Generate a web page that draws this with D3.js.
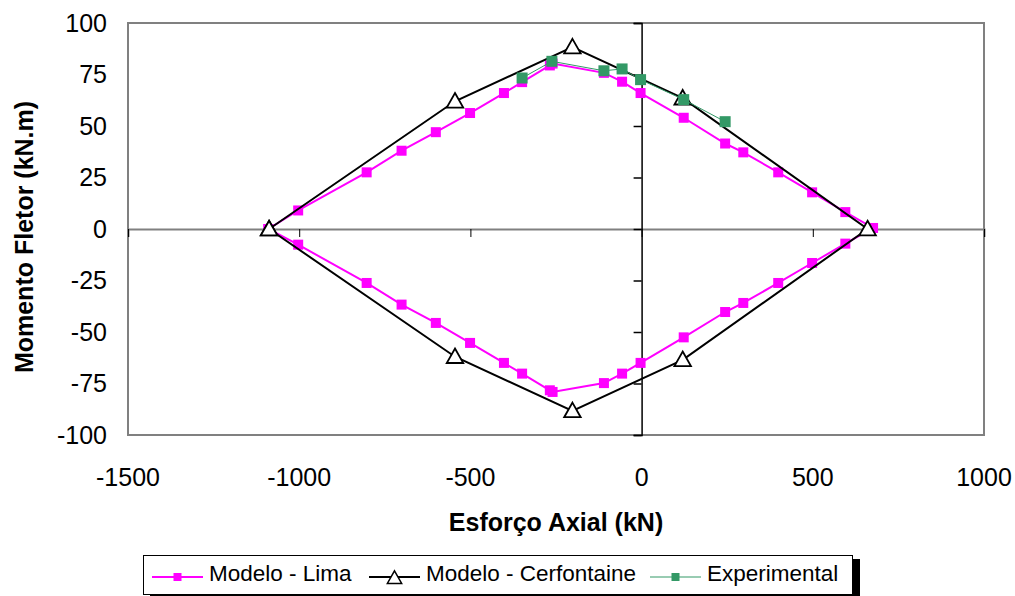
<!DOCTYPE html>
<html lang="pt">
<head>
  <meta charset="UTF-8">
  <title>Momento Fletor x Esforço Axial</title>
  <script src="https://d3js.org/d3.v7.min.js"></script>
  <style>
    body {
      margin: 0;
      background: #fff;
      font-family: "Liberation Sans", Arial, sans-serif;
    }

    svg {
      display: block;
    }

    .tick-label {
      font-size: 25px;
      fill: #000;
    }

    .axis-title {
      font-size: 25px;
      font-weight: bold;
      fill: #000;
    }

    .legend-text {
      font-size: 22.5px;
      fill: #000;
    }
  </style>
</head>
<body>
  <svg id="chart"></svg>
  <script>
    // Modelo - Lima (upper branch left to right, then lower branch back)
    const limaX = [-1090, -1003, -803, -701, -601, -501, -402, -349, -268, -260, -110, -57, -3, 123, 244, 297, 399, 498, 595, 676,
                   595, 498, 399, 297, 244, 123, -3, -57, -110, -260, -268, -349, -402, -501, -601, -701, -803, -1003, -1090];
    const limaY = [0, 9, 27.5, 38, 47, 56.3, 66, 71.3, 79.4, 80.3, 75.8, 71.5, 66, 54, 41.5, 37.2, 27.5, 17.8, 8.2, 0.5,
                   -7.1, -16.5, -26.2, -35.9, -40.3, -52.6, -65, -70.2, -74.8, -79.1, -78.3, -70.2, -65, -55.3, -45.6, -36.7, -26.2, -7.6, 0];

    // Modelo - Cerfontaine
    const cerfX = [-1088, -545, -202, 120, 660, 120, -202, -545, -1088];
    const cerfY = [0, 62, 88.3, 63.5, 0, -63.5, -88.3, -62, 0];

    // Experimental
    const expX = [-349, -262, -110, -57, -3, 123, 244];
    const expY = [73.3, 81.4, 76.8, 77.7, 72.5, 62.8, 52.1];

    const xTicks = [-1500, -1000, -500, 0, 500, 1000];
    const yTicks = [100, 75, 50, 25, 0, -25, -50, -75, -100];

    const width = 1015;
    const height = 596;
    const plot = { left: 128, right: 984, top: 23, bottom: 435 };

    const svg = d3.select("#chart")
      .attr("width", width)
      .attr("height", height);

    const x = d3.scaleLinear().domain([-1500, 1000]).range([plot.left, plot.right]);
    const y = d3.scaleLinear().domain([-100, 100]).range([plot.bottom, plot.top]);

    // plot frame
    svg.append("rect")
      .attr("x", plot.left)
      .attr("y", plot.top)
      .attr("width", plot.right - plot.left)
      .attr("height", plot.bottom - plot.top)
      .attr("fill", "#fff")
      .attr("stroke", "#808080")
      .attr("stroke-width", 2);

    // horizontal axis through zero
    const xAxis = d3.axisBottom(x).tickValues(xTicks).tickSize(8).tickFormat("");
    const gx = svg.append("g")
      .attr("transform", `translate(0,${y(0)})`)
      .call(xAxis);
    gx.select(".domain").attr("stroke", "#808080").attr("stroke-width", 2);
    gx.selectAll(".tick line").attr("stroke", "#000").attr("stroke-width", 1);

    // vertical axis through zero
    const yAxis = d3.axisLeft(y).tickValues(yTicks).tickSize(8).tickFormat("");
    const gy = svg.append("g")
      .attr("transform", `translate(${x(0)},0)`)
      .call(yAxis);
    gy.select(".domain").attr("stroke", "#000").attr("stroke-width", 1.5);
    gy.selectAll(".tick line").attr("stroke", "#000").attr("stroke-width", 1.5);

    // tick labels (placed at the low side of the plot)
    svg.append("g")
      .selectAll("text")
      .data(yTicks)
      .join("text")
      .attr("class", "tick-label")
      .attr("x", plot.left - 21)
      .attr("y", d => y(d))
      .attr("dy", "0.35em")
      .attr("text-anchor", "end")
      .text(d => d);

    svg.append("g")
      .selectAll("text")
      .data(xTicks)
      .join("text")
      .attr("class", "tick-label")
      .attr("x", d => x(d))
      .attr("y", 486)
      .attr("text-anchor", "middle")
      .text(d => d);

    // axis titles
    svg.append("text")
      .attr("class", "axis-title")
      .attr("x", (plot.left + plot.right) / 2)
      .attr("y", 531)
      .attr("text-anchor", "middle")
      .text("Esforço Axial (kN)");

    svg.append("text")
      .attr("class", "axis-title")
      .attr("transform", `translate(33,${237}) rotate(-90)`)
      .attr("text-anchor", "middle")
      .text("Momento Fletor (kN.m)");

    const line = d3.line().x(d => x(d[0])).y(d => y(d[1]));

    const lima = limaX.map((v, i) => [v, limaY[i]]);
    const cerf = cerfX.map((v, i) => [v, cerfY[i]]);
    const exp = expX.map((v, i) => [v, expY[i]]);

    const triangle = s => `M0,${-s * 0.55}L${s * 0.55},${s * 0.42}L${-s * 0.55},${s * 0.42}Z`;

    // Lima
    svg.append("path")
      .datum(lima)
      .attr("d", line)
      .attr("fill", "none")
      .attr("stroke", "#ff00ff")
      .attr("stroke-width", 2);
    svg.append("g")
      .selectAll("rect")
      .data(lima)
      .join("rect")
      .attr("x", d => x(d[0]) - 5)
      .attr("y", d => y(d[1]) - 5)
      .attr("width", 10)
      .attr("height", 10)
      .attr("fill", "#ff00ff");

    // Cerfontaine
    svg.append("path")
      .datum(cerf)
      .attr("d", line)
      .attr("fill", "none")
      .attr("stroke", "#000")
      .attr("stroke-width", 2);
    svg.append("g")
      .selectAll("path")
      .data(cerf)
      .join("path")
      .attr("transform", d => `translate(${x(d[0])},${y(d[1])})`)
      .attr("d", triangle(15))
      .attr("fill", "#fff")
      .attr("stroke", "#000")
      .attr("stroke-width", 1.8);

    // Experimental
    svg.append("path")
      .datum(exp)
      .attr("d", line)
      .attr("fill", "none")
      .attr("stroke", "#339966")
      .attr("stroke-width", 1);
    svg.append("g")
      .selectAll("rect")
      .data(exp)
      .join("rect")
      .attr("x", d => x(d[0]) - 5.5)
      .attr("y", d => y(d[1]) - 5.5)
      .attr("width", 11)
      .attr("height", 11)
      .attr("fill", "#339966");

    // legend
    const legend = svg.append("g");
    legend.append("rect")
      .attr("x", 150)
      .attr("y", 559)
      .attr("width", 710)
      .attr("height", 45)
      .attr("fill", "#000");
    legend.append("rect")
      .attr("x", 143.5)
      .attr("y", 555.5)
      .attr("width", 709)
      .attr("height", 39)
      .attr("fill", "#fff")
      .attr("stroke", "#000")
      .attr("stroke-width", 1);

    const items = [
      { name: "Modelo - Lima", color: "#ff00ff", marker: "square", x0: 152, width: 2 },
      { name: "Modelo - Cerfontaine", color: "#000", marker: "triangle", x0: 369, width: 2 },
      { name: "Experimental", color: "#339966", marker: "square", x0: 650, width: 1 }
    ];
    const ly = 577;
    items.forEach(it => {
      legend.append("line")
        .attr("x1", it.x0).attr("x2", it.x0 + 51)
        .attr("y1", ly).attr("y2", ly)
        .attr("stroke", it.color)
        .attr("stroke-width", it.width);
      const cx = it.x0 + 25.5;
      if (it.marker === "square") {
        legend.append("rect")
          .attr("x", cx - 4).attr("y", ly - 4)
          .attr("width", 8).attr("height", 8)
          .attr("fill", it.color);
      } else {
        legend.append("path")
          .attr("transform", `translate(${cx},${ly + 1})`)
          .attr("d", triangle(13))
          .attr("fill", "#fff")
          .attr("stroke", "#000")
          .attr("stroke-width", 1.5);
      }
      legend.append("text")
        .attr("class", "legend-text")
        .attr("x", it.x0 + 57)
        .attr("y", 581)
        .text(it.name);
    });
  </script>
</body>
</html>
